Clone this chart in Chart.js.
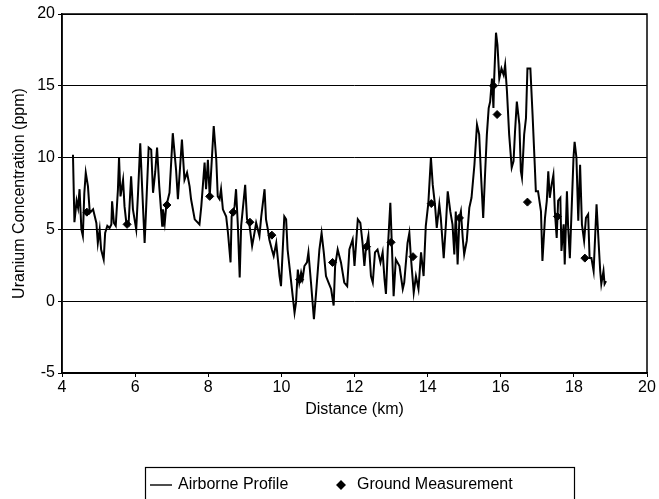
<!DOCTYPE html>
<html>
<head>
<meta charset="utf-8">
<script src="https://cdn.jsdelivr.net/npm/chart.js@4.4.1/dist/chart.umd.min.js"></script>
<style>
    html, body { margin: 0; padding: 0; background: #fff; }
    #wrap { width: 659px; height: 499px; }
</style>
</head>
<body>
<div id="wrap"><canvas id="uranium-chart" width="659" height="499"></canvas></div>
<script>
// Airborne profile (distance km / uranium ppm)
const airborneKm = [
    4.30, 4.34, 4.40, 4.44, 4.48, 4.53, 4.57, 4.61, 4.65, 4.71, 4.76, 4.85, 4.94, 4.98, 5.03, 5.07, 5.14, 5.18,
    5.24, 5.30, 5.35, 5.37, 5.42, 5.47, 5.53, 5.56, 5.60, 5.67, 5.71, 5.76, 5.82, 5.89, 5.94, 6.03, 6.08, 6.14,
    6.19, 6.26, 6.30, 6.37, 6.44, 6.49, 6.55, 6.60, 6.66, 6.74, 6.76, 6.81, 6.85, 6.94, 7.03, 7.12, 7.17, 7.28,
    7.35, 7.42, 7.49, 7.53, 7.63, 7.76, 7.81, 7.90, 7.94, 7.99, 8.04, 8.15, 8.22, 8.26, 8.31, 8.35, 8.40, 8.49,
    8.54, 8.61, 8.64, 8.72, 8.76, 8.81, 8.86, 8.90, 9.01, 9.06, 9.13, 9.20, 9.25, 9.31, 9.40, 9.45, 9.54, 9.58,
    9.63, 9.67, 9.74, 9.79, 9.86, 9.95, 9.99, 10.08, 10.13, 10.17, 10.25, 10.31, 10.36, 10.40, 10.45, 10.49,
    10.54, 10.58, 10.63, 10.70, 10.74, 10.81, 10.89, 10.95, 11.04, 11.10, 11.16, 11.22, 11.29, 11.36, 11.43,
    11.47, 11.54, 11.63, 11.72, 11.80, 11.86, 11.95, 12.00, 12.09, 12.16, 12.22, 12.27, 12.31, 12.38, 12.45,
    12.50, 12.56, 12.63, 12.71, 12.77, 12.82, 12.86, 12.91, 12.98, 13.02, 13.07, 13.13, 13.23, 13.32, 13.36,
    13.45, 13.50, 13.54, 13.62, 13.68, 13.75, 13.82, 13.89, 13.95, 14.02, 14.09, 14.14, 14.20, 14.25, 14.32,
    14.36, 14.44, 14.50, 14.55, 14.62, 14.68, 14.73, 14.77, 14.82, 14.87, 14.91, 14.96, 15.00, 15.07, 15.14,
    15.20, 15.28, 15.35, 15.41, 15.46, 15.52, 15.57, 15.62, 15.67, 15.71, 15.76, 15.80, 15.82, 15.87, 15.91,
    15.96, 16.02, 16.08, 16.12, 16.17, 16.23, 16.30, 16.35, 16.39, 16.44, 16.51, 16.55, 16.58, 16.64, 16.69,
    16.73, 16.81, 16.87, 16.93, 16.96, 17.02, 17.10, 17.14, 17.21, 17.26, 17.30, 17.34, 17.39, 17.44, 17.48,
    17.53, 17.57, 17.63, 17.66, 17.72, 17.75, 17.81, 17.84, 17.89, 17.93, 17.99, 18.02, 18.07, 18.12, 18.17,
    18.22, 18.28, 18.33, 18.39, 18.43, 18.48, 18.54, 18.58, 18.62, 18.67, 18.72, 18.75, 18.81, 18.84, 18.88
];
const airborneUranium = [
    10.2, 5.5, 7.0, 6.5, 7.8, 5.0, 4.55, 7.5, 8.95, 8.0, 6.15, 6.4, 5.45, 4.05, 5.0, 3.6, 2.9, 4.75,
    5.25, 5.1, 5.35, 6.95, 5.45, 5.25, 7.8, 10.0, 7.3, 8.45, 6.6, 5.45, 5.3, 8.7, 6.4, 5.0, 7.55, 11.0,
    8.0, 4.05, 6.4, 10.7, 10.55, 7.55, 9.0, 10.7, 8.0, 5.25, 6.4, 5.45, 6.6, 7.55, 11.7, 9.15, 7.1, 11.25,
    8.45, 8.95, 8.0, 7.1, 5.7, 5.35, 6.6, 9.65, 7.8, 9.85, 7.3, 12.2, 9.85, 7.3, 7.1, 7.8, 6.4, 5.9,
    4.75, 2.7, 5.9, 6.6, 7.8, 5.25, 1.65, 5.25, 8.1, 5.7, 5.25, 3.85, 4.55, 5.45, 4.55, 5.9, 7.8, 5.7,
    5.0, 4.3, 3.6, 3.15, 4.05, 1.75, 1.05, 5.9, 5.7, 3.6, 1.75, 0.35, -0.8, -0.1, 2.2, 1.3,
    2.0, 1.55, 2.45, 2.7, 3.4, 1.3, -1.25, 0.6, 3.6, 4.75, 3.4, 1.75, 1.3, 0.85, -0.3,
    2.45, 3.6, 2.7, 1.3, 1.05, 3.6, 4.3, 2.45, 5.7, 5.45, 4.05, 2.45, 3.6, 4.55, 1.75,
    1.3, 3.4, 3.6, 2.7, 3.4, 1.55, 0.5, 3.6, 6.85, 4.05, 0.35, 2.9, 2.45, 0.85, 1.3,
    4.05, 4.75, 3.15, 0.6, 1.75, 0.85, 3.4, 1.75, 5.25, 6.85, 10.0, 8.1, 6.75, 5.1, 6.75,
    5.8, 3.0, 5.35, 7.65, 6.25, 5.35, 3.25, 6.25, 2.55, 5.8, 6.25, 4.4, 3.25, 4.2, 6.5,
    7.2, 9.5, 12.3, 11.6, 8.8, 5.8, 8.8, 11.6, 13.45, 13.9, 15.5, 13.45, 15.5, 18.7, 17.85,
    15.5, 16.2, 15.75, 16.45, 14.6, 11.6, 9.3, 9.75, 11.8, 13.9, 12.3, 9.05, 8.6, 11.6, 12.75,
    16.2, 16.2, 13.0, 9.5, 7.65, 7.65, 6.25, 2.8, 5.8, 7.0, 9.05, 7.2, 8.1, 8.8, 6.25,
    4.4, 7.0, 7.2, 3.5, 5.35, 2.55, 7.65, 5.35, 3.0, 5.8, 10.0, 11.1, 10.0, 5.6, 9.5,
    5.35, 4.2, 5.8, 6.05, 3.0, 3.0, 2.1, 4.4, 6.75, 4.4, 2.1, 1.2, 2.1, 1.2, 1.4
];

// Ground measurements
const groundKm = [4.68, 5.78, 6.87, 8.04, 8.68, 9.14, 9.74, 10.5, 11.4, 12.33, 13.0, 13.6, 14.1, 14.87, 15.8, 15.9, 16.73, 17.55, 18.3];
const groundUranium = [6.2, 5.35, 6.7, 7.3, 6.2, 5.5, 4.6, 1.5, 2.7, 3.8, 4.1, 3.1, 6.8, 5.8, 15.0, 13.0, 6.9, 5.9, 3.0];

const seriesNames = ['Airborne Profile', 'Ground Measurement'];
const xAxisTitle = 'Distance (km)';
const yAxisTitle = 'Uranium Concentration (ppm)';

const FONT = '"Liberation Sans", Arial, Helvetica, sans-serif';

// plot frame plus the boxed legend under the axis
const frameAndLegend = {
    id: 'frameAndLegend',
    afterDraw(chart) {
        const { ctx, chartArea: a } = chart;
        ctx.save();
        ctx.strokeStyle = '#000';
        ctx.lineWidth = 1.5;
        ctx.strokeRect(a.left, a.top, a.right - a.left, a.bottom - a.top);

        // legend
        ctx.lineWidth = 1.2;
        ctx.strokeRect(145.5, 467.5, 429, 40);
        const ly = 485;
        ctx.beginPath();
        ctx.moveTo(150, ly);
        ctx.lineTo(172, ly);
        ctx.lineWidth = 1.4;
        ctx.stroke();
        ctx.fillStyle = '#000';
        Chart.helpers.drawPoint(ctx, { pointStyle: 'rectRot', radius: 4, borderWidth: 1 }, 341, ly);
        ctx.fill();
        ctx.font = '16px ' + FONT;
        ctx.textBaseline = 'middle';
        ctx.fillText(seriesNames[0], 178, ly);
        ctx.fillText(seriesNames[1], 357, ly);
        ctx.restore();
    }
};

const tickFont = { family: FONT, size: 16 };

new Chart(document.getElementById('uranium-chart'), {
    type: 'scatter',
    data: {
        datasets: [{
            label: seriesNames[0],
            data: airborneKm.map((x, i) => ({ x, y: airborneUranium[i] })),
            showLine: true,
            borderColor: '#000',
            borderWidth: 2,
            pointRadius: 0,
            tension: 0,
            order: 2
        }, {
            label: seriesNames[1],
            data: groundKm.map((x, i) => ({ x, y: groundUranium[i] })),
            showLine: false,
            pointStyle: 'rectRot',
            pointRadius: 4,
            backgroundColor: '#000',
            borderColor: '#000',
            order: 1
        }]
    },
    options: {
        responsive: false,
        animation: false,
        layout: { padding: { left: 6, right: 12, top: 14, bottom: 76 } },
        plugins: {
            legend: { display: false },
            tooltip: { enabled: false }
        },
        scales: {
            x: {
                type: 'linear',
                min: 4,
                max: 20,
                ticks: { stepSize: 2, color: '#000', font: tickFont, padding: 1, maxRotation: 0 },
                grid: { drawOnChartArea: false, color: '#000', tickLength: 4 },
                border: { color: '#000', width: 1.5 },
                title: { display: true, text: xAxisTitle, color: '#000', font: tickFont, padding: { top: 0, bottom: 4 } },
                afterFit(scale) { scale.height = 50; }
            },
            y: {
                min: -5,
                max: 20,
                ticks: { stepSize: 5, color: '#000', font: tickFont, padding: 3 },
                grid: { color: '#000', lineWidth: 1, tickLength: 4 },
                border: { color: '#000', width: 1.5 },
                title: { display: true, text: yAxisTitle, color: '#000', font: tickFont, padding: { top: 4, bottom: 0 } },
                afterFit(scale) { scale.width = 56; }
            }
        }
    },
    plugins: [frameAndLegend]
});
</script>
</body>
</html>
